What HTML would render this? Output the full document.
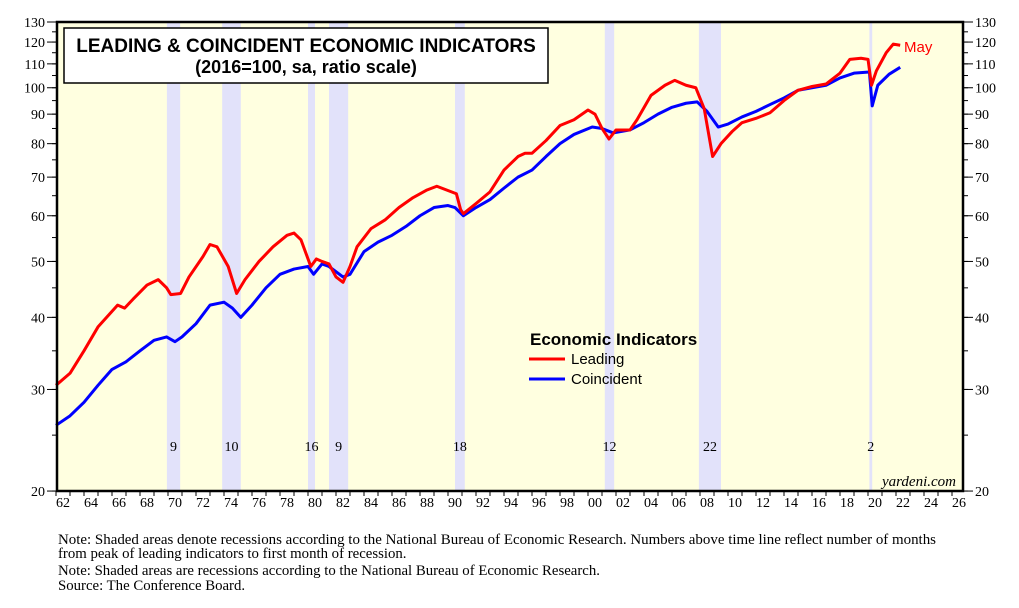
<!DOCTYPE html>
<html><head><meta charset="utf-8"><style>
body{margin:0;background:#fff;width:1019px;height:608px;overflow:hidden}
svg{display:block}
.t{font-family:"Liberation Serif",serif;font-size:13px;fill:#000}
</style></head><body>
<svg id="c" width="1019" height="608"></svg>
<script>
const leadT=[1962,1963,1964,1965,1966.4,1966.9,1967.5,1968.5,1969.3,1969.9,1970.2,1970.9,1971.5,1972.5,1973.0,1973.5,1974.3,1974.9,1975.5,1976.5,1977.5,1978.5,1979.0,1979.5,1980.2,1980.6,1981.0,1981.5,1982.0,1982.5,1983.0,1983.5,1984.5,1985.5,1986.5,1987.5,1988.5,1989.2,1989.9,1990.6,1990.9,1991.1,1992,1993,1994,1995,1995.5,1996,1997,1998,1999,2000,2000.5,2001,2001.5,2002,2003,2003.5,2004.5,2005.5,2006.2,2007.0,2007.7,2008.3,2008.9,2009.5,2010.3,2011,2012,2013,2014,2015,2016,2017,2018,2018.7,2019.5,2020.0,2020.25,2020.6,2021.3,2021.8,2022.3];
const leadV=[30.5,32,35,38.5,42,41.5,43,45.5,46.5,45,43.8,44,47,51,53.5,53,49,44,46.5,50,53,55.5,56,54.5,49,50.5,50,49.5,47,46,49,53,57,59,62,64.5,66.5,67.5,66.5,65.5,61.5,60.5,63,66,72,76,77,77,81,86,88,91.5,90,85,81.5,84.5,84.5,88,97,101,103,101,100,92,76,80,84,87,88.5,90.5,95,99,100.5,101.5,106,112,112.5,112,101,107,115,119,118.5];
const coinT=[1962,1963,1964,1965,1966,1967,1968,1969,1969.9,1970.5,1971,1972,1973,1974,1974.6,1975.2,1976,1977,1978,1979,1980.0,1980.4,1981,1981.5,1982.5,1983,1984,1985,1986,1987,1988,1989,1990,1990.5,1991.1,1992,1993,1994,1995,1996,1997,1998,1999,2000.3,2001,2001.8,2003,2004,2005,2006,2007,2007.8,2008.5,2009.3,2010,2011,2012,2013,2014,2015,2016,2017,2018,2019,2020.1,2020.3,2020.7,2021.5,2022.3];
const coinV=[26,27,28.5,30.5,32.5,33.5,35,36.5,37,36.3,37,39,42,42.5,41.5,40,42,45,47.5,48.5,49,47.5,49.5,49,47,47.5,52,54,55.5,57.5,60,62,62.5,62,60,62,64,67,70,72,76,80,83,85.5,85,83.5,84.5,87,90,92.5,94,94.5,91,85.5,86.5,89,91,93.5,96,99,100,101,104,106,106.5,93,101,105.5,108.5];
const recStart=[1969.92,1973.87,1980.0,1981.5,1990.5,2001.2,2007.92,2020.1];
const recEnd=[1970.87,1975.2,1980.5,1982.87,1991.2,2001.87,2009.5,2020.3];
const recLabels=["9","10","16","9","18","12","22","2"];
const yTicks=[20,30,40,50,60,70,80,90,100,110,120,130];
const xYears=[];for(let y=1962;y<=2026;y+=2)xYears.push(y);

const NS="http://www.w3.org/2000/svg",svg=document.getElementById('c');
const L=57,R=963,T=22,B=491;
const x=t=>56+14*(t-1962);
const y=v=>T+577*Math.log10(130/v);
function mk(tag,a,p){const e=document.createElementNS(NS,tag);for(const k in a)e.setAttribute(k,a[k]);(p||svg).appendChild(e);return e;}
let e=mk('rect',{x:L,y:T,width:R-L,height:B-T,fill:'#ffffe0'});

recStart.forEach((s,i)=>{
 let r=mk('rect',{x:x(s),y:T,width:x(recEnd[i])-x(s),height:B-T,fill:'#e2e2fa'});
 
 let tx=mk('text',{x:(x(s)+x(recEnd[i]))/2,y:451,'text-anchor':'middle',class:'t',style:'font-size:14px'});tx.textContent=recLabels[i];
 
});
for(let v=20;v<=130;v+=5){[[L,L-5],[R,R+5]].forEach(([a,b])=>mk('line',{x1:a,x2:b,y1:y(v),y2:y(v),stroke:'#000','stroke-width':1}));}
yTicks.forEach(v=>{
 mk('line',{x1:L-10,x2:L,y1:y(v),y2:y(v),stroke:'#000'});mk('line',{x1:R,x2:R+10,y1:y(v),y2:y(v),stroke:'#000'});
 let a=mk('text',{x:L-12,y:y(v)+5,'text-anchor':'end',class:'t',style:'font-size:14px'});a.textContent=v;
 
 let b=mk('text',{x:R+12,y:y(v)+5,class:'t',style:'font-size:14px'});b.textContent=v;
 
});
for(let t=1962;t<=2026;t++){mk('line',{x1:x(t),x2:x(t),y1:B,y2:B+5,stroke:'#000'});}
xYears.forEach(t=>{
 let a=mk('text',{x:x(t+0.5),y:B+16,'text-anchor':'middle',class:'t',style:'font-size:14px'});a.textContent=String(t).slice(2);
 
});
function line(T_,V,c,n){let p=mk('polyline',{points:T_.map((t,i)=>x(t)+','+y(V[i])).join(' '),fill:'none',stroke:c,'stroke-width':3,'stroke-linejoin':'round'});
 }
line(coinT,coinV,'#0000ff','coincident-line');
line(leadT,leadV,'#ff0000','leading-line');
e=mk('rect',{x:L,y:T,width:R-L,height:B-T,fill:'none',stroke:'#000','stroke-width':2.5});

</script>
<svg style="position:absolute;left:0;top:0" width="1019" height="608">
<g>
<rect x="64" y="28" width="484" height="55" fill="#fff" stroke="#000" stroke-width="1.5"/>
<text x="306" y="52" text-anchor="middle" style="font:bold 19px 'Liberation Sans',sans-serif">LEADING &amp; COINCIDENT ECONOMIC INDICATORS</text>
<text x="306" y="73" text-anchor="middle" style="font:bold 18px 'Liberation Sans',sans-serif">(2016=100, sa, ratio scale)</text>
</g>
<text x="904" y="52" fill="#ff0000" style="font:15px 'Liberation Sans',sans-serif">May</text>
<g>
<text x="530" y="345" style="font:bold 17px 'Liberation Sans',sans-serif">Economic Indicators</text>
<line x1="529" x2="565" y1="359" y2="359" stroke="#ff0000" stroke-width="3"/>
<text x="571" y="364" style="font:15px 'Liberation Sans',sans-serif">Leading</text>
<line x1="529" x2="565" y1="379" y2="379" stroke="#0000ff" stroke-width="3"/>
<text x="571" y="384" style="font:15px 'Liberation Sans',sans-serif">Coincident</text>
</g>
<text x="956" y="486" text-anchor="end" style="font:italic 15px 'Liberation Serif',serif">yardeni.com</text>
<g style="font:14.8px 'Liberation Serif',serif">
<text x="58" y="544" textLength="878" lengthAdjust="spacingAndGlyphs">Note: Shaded areas denote recessions according to the National Bureau of Economic Research. Numbers above time line reflect number of months</text>
<text x="58" y="558">from peak of leading indicators to first month of recession.</text>
<text x="58" y="575">Note: Shaded areas are recessions according to the National Bureau of Economic Research.</text>
<text x="58" y="590">Source: The Conference Board.</text>
</g>
</svg>
</body></html>
